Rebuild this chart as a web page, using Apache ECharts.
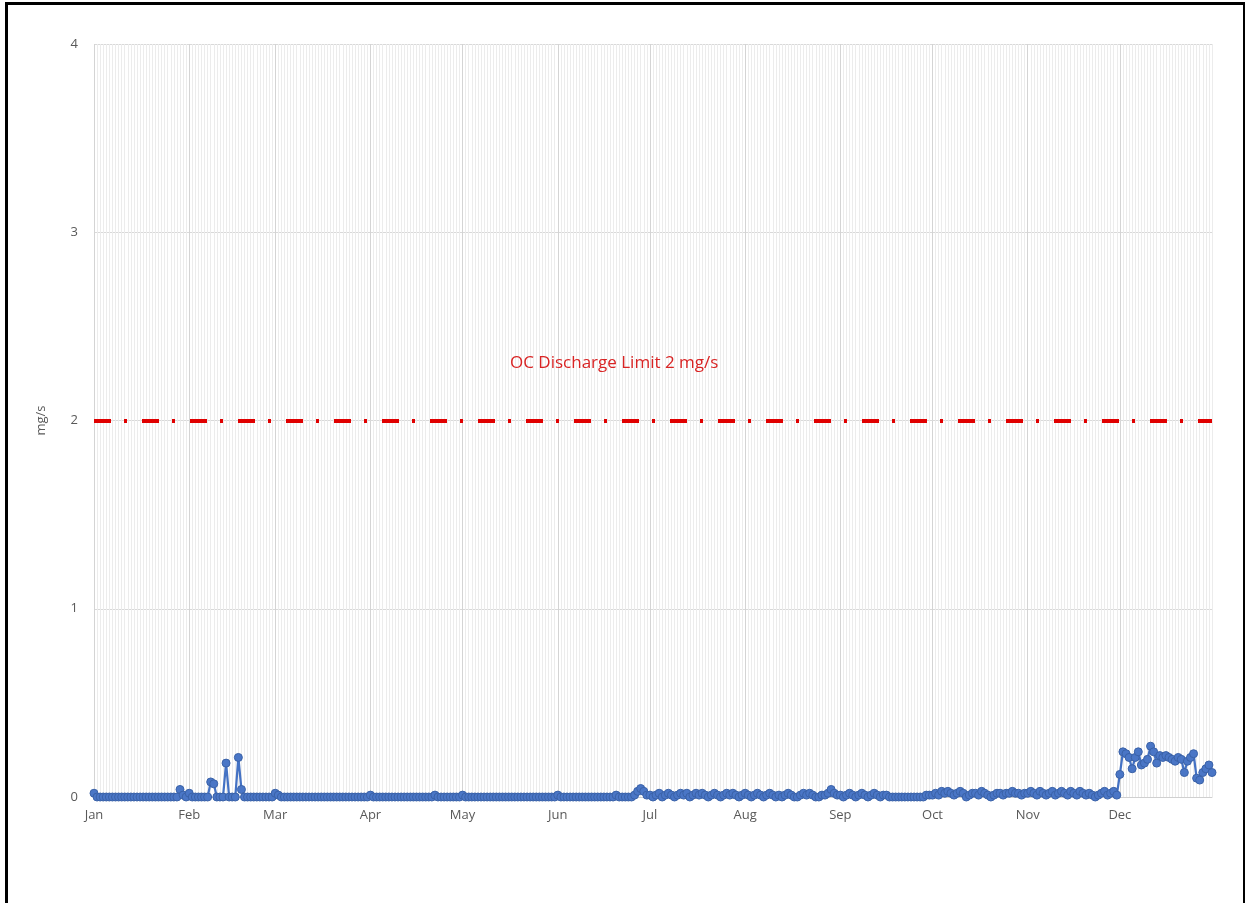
<!DOCTYPE html>
<html>
<head>
<meta charset="utf-8">
<script src="https://cdn.jsdelivr.net/npm/echarts@6/dist/echarts.min.js"></script>
<style>
html,body{margin:0;padding:0;background:#fff;width:1245px;height:903px;overflow:hidden;}
#chart{position:absolute;left:0;top:0;width:1245px;height:903px;}
#frame{position:absolute;left:5px;top:2px;width:1235px;height:910px;border:3px solid #000;pointer-events:none;}
</style>
</head>
<body>
<div id="chart"></div>
<div id="frame"></div>
<script>
const monthNames = ['Jan','Feb','Mar','Apr','May','Jun','Jul','Aug','Sep','Oct','Nov','Dec'];
const yTicks = [0,1,2,3,4];
const limitValue = 2;
const limitLabel = 'OC Discharge Limit 2 mg/s';
const yAxisName = 'mg/s';

const jan = [0.02,0,0,0,0,0,0,0,0,0,0,0,0,0,0,0,0,0,0,0,0,0,0,0,0,0,0,0,0.04,0.01,0];
const feb = [0.02,0,0,0,0,0,0,0.08,0.07,0,0,0,0.18,0,0,0,0.21,0.04,0,0,0,0,0,0,0,0,0,0];
const mar = [0.02,0.01,0,0,0,0,0,0,0,0,0,0,0,0,0,0,0,0,0,0,0,0,0,0,0,0,0,0,0,0,0];
const apr = [0.01,0,0,0,0,0,0,0,0,0,0,0,0,0,0,0,0,0,0,0,0,0.01,0,0,0,0,0,0,0,0];
const may = [0.01,0,0,0,0,0,0,0,0,0,0,0,0,0,0,0,0,0,0,0,0,0,0,0,0,0,0,0,0,0,0];
const jun = [0.01,0,0,0,0,0,0,0,0,0,0,0,0,0,0,0,0,0,0,0.01,0,0,0,0,0,0.01,0.03,0.045,0.03,0.01];
const jul = [0.01,0,0.01,0.02,0,0.01,0.02,0.01,0,0.01,0.02,0.01,0.02,0,0.01,0.02,0.01,0.02,0.01,0,0.01,0.02,0.01,0,0.01,0.02,0.01,0.02,0.01,0,0.01];
const aug = [0.02,0.01,0,0.01,0.02,0.01,0,0.01,0.02,0.01,0,0.01,0,0.01,0.02,0.01,0,0,0.01,0.02,0.01,0.02,0.01,0,0,0.01,0.01,0.02,0.04,0.02,0.01];
const sep = [0.01,0,0.01,0.02,0.01,0,0.01,0.02,0.01,0,0.01,0.02,0.01,0,0.01,0.01,0,0,0,0,0,0,0,0,0,0,0,0,0.01,0.01];
const oct = [0.01,0.02,0.01,0.03,0.02,0.03,0.02,0.01,0.02,0.03,0.02,0,0.01,0.02,0.02,0.01,0.03,0.02,0.01,0,0.01,0.02,0.02,0.01,0.02,0.02,0.03,0.02,0.02,0.01,0.02];
const nov = [0.02,0.03,0.02,0.01,0.03,0.02,0.01,0.02,0.03,0.01,0.02,0.03,0.02,0.01,0.03,0.02,0.01,0.03,0.02,0.01,0.02,0.01,0,0.01,0.02,0.03,0.01,0.02,0.03,0.01];
const dec = [0.12,0.24,0.23,0.21,0.15,0.21,0.24,0.17,0.18,0.20,0.27,0.24,0.18,0.22,0.21,0.22,0.21,0.20,0.19,0.21,0.20,0.13,0.19,0.21,0.23,0.10,0.09,0.13,0.15,0.17,0.13];

const monthly = [jan,feb,mar,apr,may,jun,jul,aug,sep,oct,nov,dec];
const values = [];
const dates = [];
monthly.forEach((arr, m) => {
  arr.forEach((v, d) => {
    values.push(v);
    dates.push((m+1 < 10 ? '0' : '') + (m+1) + '-' + (d+1 < 10 ? '0' : '') + (d+1));
  });
});

const isMonthStart = (i, v) => /-01$/.test(v);
const font = '"Open Sans", "Liberation Sans", sans-serif';

const chart = echarts.init(document.getElementById('chart'));
chart.setOption({
  animation: false,
  backgroundColor: '#fff',
  grid: {left: 94, right: 33, top: 44, bottom: 106},
  xAxis: [
    {
      type: 'category', data: dates, boundaryGap: false,
      axisLine: {show: true, lineStyle: {color: '#d0d0d0', width: 1}},
      axisTick: {show: false},
      axisLabel: {
        interval: isMonthStart, color: '#595959', fontSize: 13, fontFamily: font, margin: 12,
        formatter: v => monthNames[parseInt(v.slice(0,2),10)-1]
      },
      splitLine: {show: true, interval: 0, lineStyle: {color: '#ececec', width: 1}}
    },
    {
      type: 'category', data: dates, boundaryGap: false, position: 'bottom',
      axisLine: {show: false}, axisTick: {show: false}, axisLabel: {show: false},
      splitLine: {show: true, interval: isMonthStart, lineStyle: {color: '#d4d4d4', width: 1}}
    }
  ],
  yAxis: {
    type: 'value', min: yTicks[0], max: yTicks[yTicks.length-1], interval: 1,
    name: yAxisName, nameLocation: 'middle', nameGap: 46, nameRotate: 90,
    nameTextStyle: {color: '#595959', fontSize: 13, fontFamily: font},
    axisLine: {show: false}, axisTick: {show: false},
    axisLabel: {color: '#595959', fontSize: 13, fontFamily: font, margin: 16},
    splitLine: {show: true, lineStyle: {color: '#d9d9d9', width: 1}}
  },
  graphic: [{
    type: 'text', left: 510, top: 355, z: 100,
    style: {text: limitLabel, fill: '#d92424', fontSize: 17, fontFamily: font}
  }],
  series: [{
    type: 'line', data: values, xAxisIndex: 0,
    symbol: 'circle', symbolSize: 8, showSymbol: true, showAllSymbol: true,
    lineStyle: {color: '#4472C4', width: 2.25},
    itemStyle: {color: '#4a76c6', borderColor: '#3A62A8', borderWidth: 1},
    markLine: {
      silent: true, symbol: ['none','none'], label: {show: false},
      lineStyle: {color: '#e00000', width: 4, type: [17,13,3,15], opacity: 1},
      data: [{yAxis: limitValue}]
    },
    z: 3
  }]
});
</script>
</body>
</html>
